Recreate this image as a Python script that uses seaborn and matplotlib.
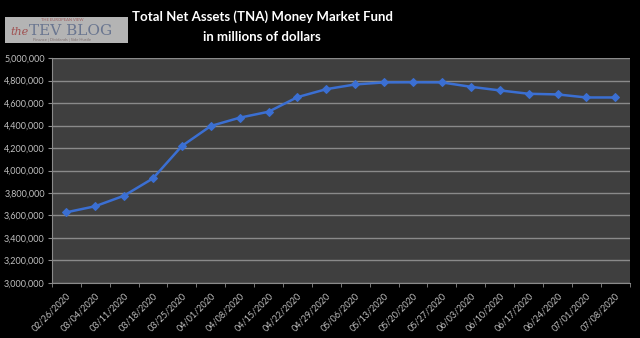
import matplotlib
matplotlib.use("Agg")
import matplotlib.pyplot as plt
import matplotlib.patches as mpatches
import seaborn as sns
import pandas as pd
import numpy as np
from matplotlib.ticker import FuncFormatter, FixedLocator

dates = ["02/26/2020", "03/04/2020", "03/11/2020", "03/18/2020", "03/25/2020",
         "04/01/2020", "04/08/2020", "04/15/2020", "04/22/2020", "04/29/2020",
         "05/06/2020", "05/13/2020", "05/20/2020", "05/27/2020", "06/03/2020",
         "06/10/2020", "06/17/2020", "06/24/2020", "07/01/2020", "07/08/2020"]
tna = [3628000, 3682000, 3776000, 3930000, 4218000,
       4396000, 4470000, 4523000, 4653000, 4724000,
       4766000, 4784000, 4785000, 4784000, 4745000,
       4713000, 4683000, 4677000, 4650000, 4650000]
y_ticks = [3000000, 3200000, 3400000, 3600000, 3800000, 4000000,
           4200000, 4400000, 4600000, 4800000, 5000000]
title = "Total Net Assets (TNA) Money Market Fund\nin millions of dollars"

df = pd.DataFrame({"date": dates, "tna": tna})

sns.set_style("dark")
plt.rcParams["font.family"] = ["Lato", "DejaVu Sans"]

fig = plt.figure(figsize=(6.4, 3.38), dpi=100, facecolor="black")
ax = fig.add_axes([0.081, 0.163, 0.903, 0.665])
ax.set_facecolor("#3f3f3f")

sns.lineplot(data=df, x="date", y="tna", sort=False, ax=ax, color="#3b6fd2",
             linewidth=1.8, marker="D", markersize=4, markeredgecolor="#3b6fd2")

ax.set_xlim(-0.5, len(dates) - 0.5)
ax.set_ylim(y_ticks[0], y_ticks[-1])
ax.set_yticks(y_ticks)
ax.yaxis.set_major_formatter(FuncFormatter(lambda v, p: f"{int(v):,}"))
ax.grid(axis="y", color="#8a8a8a", linewidth=1.0)
ax.grid(axis="x", visible=False)
ax.set_axisbelow(True)

ax.set_xticks(range(len(dates)))
ax.set_xticklabels(dates, rotation=45, ha="right", rotation_mode="anchor")
ax.xaxis.set_minor_locator(FixedLocator(np.arange(-0.5, len(dates), 1.0)))
ax.tick_params(axis="x", which="major", length=0, pad=6, labelsize=6.5, labelcolor="#c0c0c0")
ax.tick_params(axis="x", which="minor", length=3, color="#8a8a8a", bottom=True)
ax.tick_params(axis="y", length=3, color="#8a8a8a", left=True, labelsize=6.5,
               labelcolor="#c0c0c0", pad=2)
ax.set_xlabel("")
ax.set_ylabel("")
for s in ["top", "right"]:
    ax.spines[s].set_visible(False)
for s in ["left", "bottom"]:
    ax.spines[s].set_visible(True)
    ax.spines[s].set_color("#8a8a8a")

fig.text(262 / 640, 1 - 26.5 / 338, title, ha="center", va="center", color="white",
         fontsize=9.5, fontweight="bold", linespacing=1.75)

# logo box
fig.patches.append(mpatches.Rectangle((5 / 640, 1 - 43 / 338), 123 / 640, 26 / 338,
                                      transform=fig.transFigure, facecolor="#b4b4b4",
                                      edgecolor="none"))
fig.text(10 / 640, 1 - 32 / 338, "the", color="#a05050", fontsize=8, style="italic",
         family="DejaVu Serif", va="center", ha="left")
fig.text(29 / 640, 1 - 31 / 338, "TEV BLOG", color="#6a7690", fontsize=11,
         family="DejaVu Serif", va="center", ha="left")
fig.text(62 / 640, 1 - 20 / 338, "THE EUROPEAN VIEW", color="#a06060", fontsize=3,
         va="center", ha="center")
fig.text(62 / 640, 1 - 40 / 338, "Finance | Dividends | Side Hustle", color="#807070",
         fontsize=3, va="center", ha="center")

fig.savefig("out.png", dpi=100, facecolor="black")
